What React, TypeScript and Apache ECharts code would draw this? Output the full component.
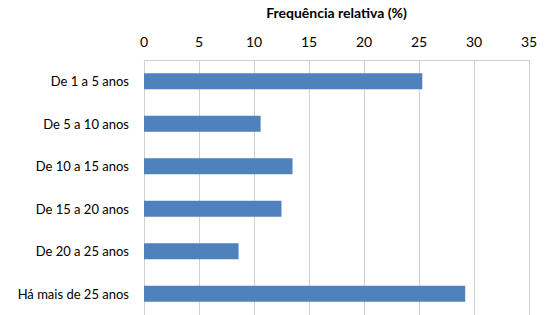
import React, { useEffect, useRef } from "react";
import * as echarts from "echarts";

const categories = [
  "De 1 a 5 anos",
  "De 5 a 10 anos",
  "De 10 a 15 anos",
  "De 15 a 20 anos",
  "De 20 a 25 anos",
  "Há mais de 25 anos",
];
const values = [25.3, 10.6, 13.5, 12.5, 8.6, 29.2];
const axisTitle = "Frequência relativa (%)";

export default function App() {
  const ref = useRef<HTMLDivElement>(null);
  useEffect(() => {
    document.body.style.margin = "0";
    const chart = echarts.init(ref.current!, null, { renderer: "svg" });
    chart.setOption({
      animation: false,
      backgroundColor: "#ffffff",
      grid: { left: 144, top: 60, width: 385, height: 259, containLabel: false },
      xAxis: {
        type: "value",
        position: "top",
        min: 0,
        max: 35,
        interval: 5,
        name: axisTitle,
        nameLocation: "middle",
        nameGap: 41,
        nameTextStyle: { fontFamily: "Lato", fontSize: 14, fontWeight: "bold", color: "#000" },
        axisLine: { show: true, lineStyle: { color: "#d0d0d0", width: 1 } },
        axisTick: { show: false },
        axisLabel: { fontFamily: "Lato", fontSize: 14, color: "#000", margin: 12 },
        splitLine: { show: true, lineStyle: { color: "#d0d0d0", width: 1 } },
      },
      yAxis: {
        type: "category",
        data: categories,
        inverse: true,
        axisLine: { show: false },
        axisTick: { show: false },
        axisLabel: { fontFamily: "Lato", fontSize: 13, color: "#000", margin: 15 },
        splitLine: { show: false },
      },
      series: [
        {
          type: "bar",
          data: values,
          barWidth: "38%",
          itemStyle: { color: "#4F81BD" },
        },
      ],
    });
    return () => chart.dispose();
  }, []);
  return <div ref={ref} style={{ width: 545, height: 315 }} />;
}
